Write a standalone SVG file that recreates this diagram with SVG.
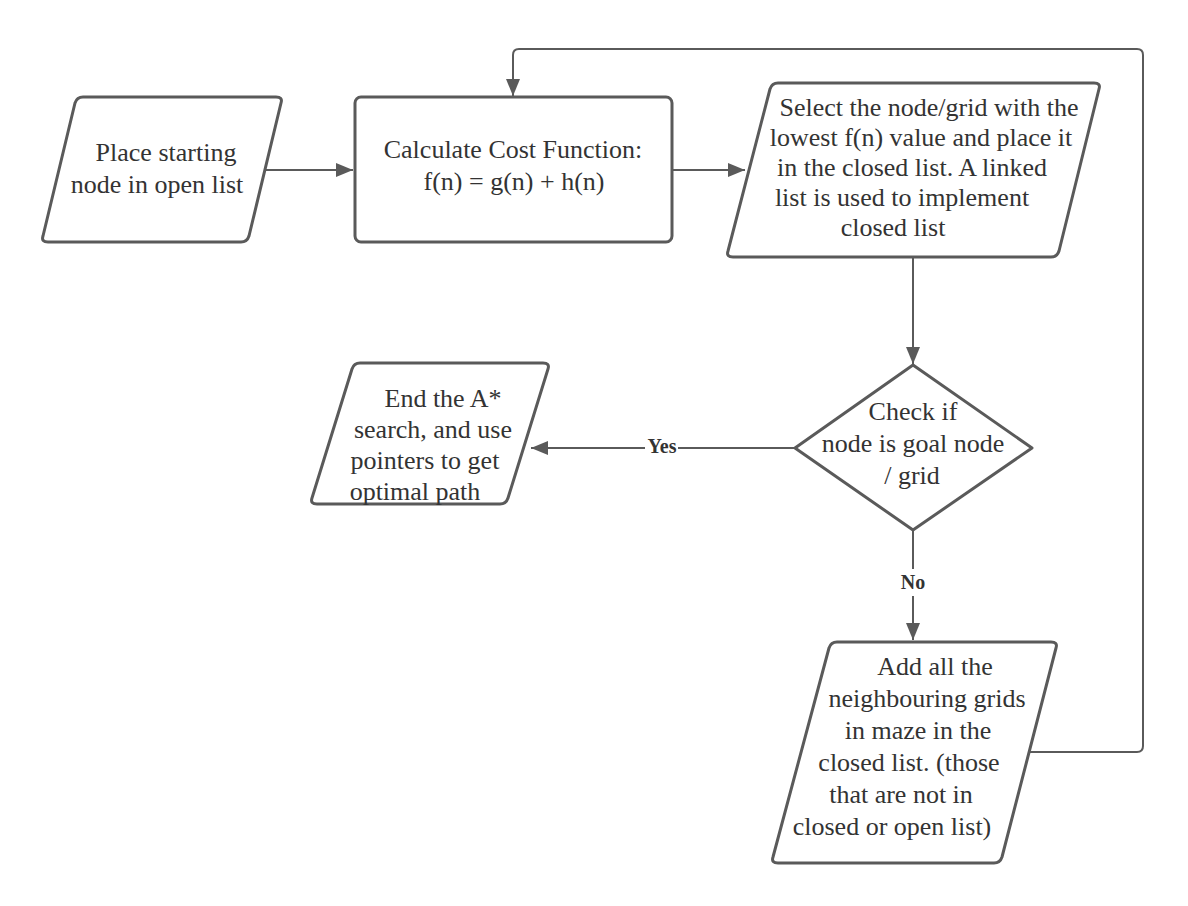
<svg xmlns="http://www.w3.org/2000/svg" width="1188" height="906" viewBox="0 0 1188 906">
<style>
  .shape { fill: #ffffff; stroke: #5a5a5a; stroke-width: 3; stroke-linejoin: round; }
  .conn { fill: none; stroke: #5a5a5a; stroke-width: 2; }
  .t { font-family: "Liberation Serif", "Times New Roman", serif; font-size: 26px; fill: #333333; text-anchor: middle; }
  .lbl { font-family: "Liberation Serif", "Times New Roman", serif; font-size: 20px; font-weight: bold; fill: #333333; text-anchor: middle; }
</style>
<defs>
  <marker id="arrow" markerUnits="userSpaceOnUse" markerWidth="18" markerHeight="14" refX="17" refY="7" orient="auto">
    <path d="M0,0 L17,7 L0,14 z" fill="#5a5a5a"/>
  </marker>
</defs>
<rect width="1188" height="906" fill="#ffffff"/>

<g id="connectors">
  <path class="conn" d="M262,170 L353,170" marker-end="url(#arrow)"/>
  <path class="conn" d="M672,170 L745,170" marker-end="url(#arrow)"/>
  <path class="conn" d="M913,257 L913,364" marker-end="url(#arrow)"/>
  <path class="conn" d="M795,448 L531,448" marker-end="url(#arrow)"/>
  <path class="conn" d="M913,530 L913,640" marker-end="url(#arrow)"/>
  <path class="conn" d="M1030,752 L1137,752 Q1143,752 1143,746 L1143,55 Q1143,49 1137,49 L519,49 Q513,49 513,55 L513,96" marker-end="url(#arrow)"/>
  <rect x="645" y="436" width="33" height="22" fill="#ffffff"/>
  <text class="lbl" x="662" y="453">Yes</text>
  <rect x="897" y="569" width="32" height="27" fill="#ffffff"/>
  <text class="lbl" x="913" y="589">No</text>
</g>

<g id="node-start">
  <path class="shape" d="M83,97 L276,97 Q283,97 281,103 L249,236 Q247,242 241,242 L48,242 Q41,242 43,236 L75,103 Q77,97 83,97 z"/>
  <text class="t" x="166" y="161">Place starting</text>
  <text class="t" x="157" y="193">node in open list</text>
</g>

<g id="node-cost">
  <rect class="shape" x="355" y="97" width="317" height="145" rx="6"/>
  <text class="t" x="513" y="158">Calculate Cost Function:</text>
  <text class="t" x="514" y="190">f(n) = g(n) + h(n)</text>
</g>

<g id="node-select">
  <path class="shape" d="M778,83 L1094,83 Q1101,83 1099,89 L1059,251 Q1057,257 1051,257 L733,257 Q726,257 728,251 L770,89 Q772,83 778,83 z"/>
  <text class="t" x="929" y="116">Select the node/grid with the</text>
  <text class="t" x="921" y="146">lowest f(n) value and place it</text>
  <text class="t" x="912" y="176">in the closed list. A linked</text>
  <text class="t" x="902" y="206">list is used to implement</text>
  <text class="t" x="893" y="236">closed list</text>
</g>

<g id="node-check">
  <path class="shape" d="M913,365 L1032,448 L913,530 L795,448 z"/>
  <text class="t" x="913" y="420">Check if</text>
  <text class="t" x="913" y="452">node is goal node</text>
  <text class="t" x="912" y="484">/ grid</text>
</g>

<g id="node-end">
  <path class="shape" d="M360,363 L543,363 Q550,363 548,369 L508,498 Q506,504 500,504 L317,504 Q310,504 312,498 L352,369 Q354,363 360,363 z"/>
  <text class="t" x="443" y="407">End the A*</text>
  <text class="t" x="433" y="438">search, and use</text>
  <text class="t" x="425" y="469">pointers to get</text>
  <text class="t" x="415" y="500">optimal path</text>
</g>

<g id="node-add">
  <path class="shape" d="M837,642 L1051,642 Q1058,642 1056,648 L1002,857 Q1000,863 994,863 L778,863 Q771,863 773,857 L829,648 Q831,642 837,642 z"/>
  <text class="t" x="935" y="675">Add all the</text>
  <text class="t" x="927" y="707">neighbouring grids</text>
  <text class="t" x="918" y="739">in maze in the</text>
  <text class="t" x="909" y="771">closed list. (those</text>
  <text class="t" x="901" y="803">that are not in</text>
  <text class="t" x="892" y="835">closed or open list)</text>
</g>
</svg>
